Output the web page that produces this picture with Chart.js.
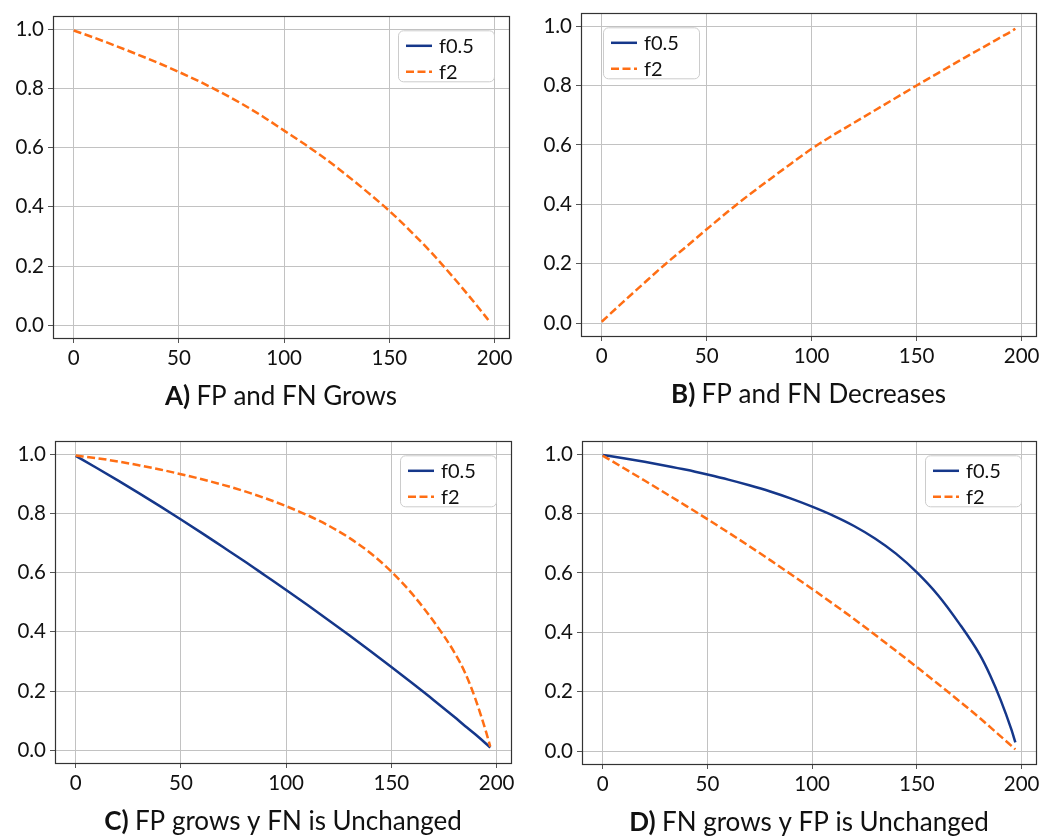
<!DOCTYPE html>
<html>
<head>
<meta charset="utf-8">
<script src="https://cdn.jsdelivr.net/npm/chart.js@4.4.1/dist/chart.umd.min.js"></script>
<style>
  html, body { margin: 0; padding: 0; background: #fff; }
  body { width: 1044px; height: 836px; position: relative; overflow: hidden; }
  canvas { position: absolute; }
</style>
</head>
<body>
<canvas id="chartA"></canvas>
<canvas id="chartB"></canvas>
<canvas id="chartC"></canvas>
<canvas id="chartD"></canvas>
<script>
// Datos
var xValues = [0, 10, 20, 30, 40, 50, 60, 70, 80, 90, 100, 110, 120, 130, 140, 150, 160, 170, 180, 185, 190, 195, 197];
var xTicks = [0, 50, 100, 150, 200];
var xTickLabels = ['0', '50', '100', '150', '200'];
var yTicks = [0, 0.2, 0.4, 0.6, 0.8, 1.0];
var yTickLabels = ['0.0', '0.2', '0.4', '0.6', '0.8', '1.0'];
var seriesNames = ['f0.5', 'f2'];
var panelLetters = ['A)', 'B)', 'C)', 'D)'];
var panelCaptions = ['FP and FN Grows', 'FP and FN Decreases', 'FP grows y FN is Unchanged', 'FN grows y FP is Unchanged'];

// A) f0.5 no se ve (queda tapada), solo aparece en la leyenda
var growsF05 = [];
var growsF2 = [0.995, 0.970, 0.943, 0.915, 0.886, 0.855, 0.822, 0.786, 0.747, 0.704, 0.657, 0.610, 0.560, 0.505, 0.447, 0.386, 0.318, 0.245, 0.165, 0.123, 0.080, 0.036, 0.018];
// B)
var decreasesF05 = [];
var decreasesF2 = [0.005, 0.070, 0.134, 0.197, 0.256, 0.316, 0.375, 0.431, 0.484, 0.536, 0.587, 0.632, 0.674, 0.716, 0.758, 0.800, 0.841, 0.882, 0.922, 0.942, 0.962, 0.982, 0.991];
// C)
var fpGrowsF05 = [0.994, 0.953, 0.911, 0.868, 0.824, 0.779, 0.733, 0.686, 0.639, 0.590, 0.541, 0.491, 0.440, 0.388, 0.335, 0.281, 0.226, 0.170, 0.112, 0.082, 0.053, 0.022, 0.009];
var fpGrowsF2 = [0.995, 0.986, 0.975, 0.962, 0.948, 0.932, 0.915, 0.896, 0.875, 0.851, 0.824, 0.794, 0.759, 0.717, 0.666, 0.603, 0.527, 0.436, 0.330, 0.262, 0.172, 0.062, 0.012];
// D)
var fnGrowsF05 = [0.997, 0.986, 0.974, 0.961, 0.947, 0.931, 0.914, 0.895, 0.874, 0.850, 0.823, 0.793, 0.758, 0.716, 0.665, 0.602, 0.526, 0.432, 0.325, 0.255, 0.172, 0.075, 0.030];
var fnGrowsF2 = [0.995, 0.953, 0.911, 0.868, 0.825, 0.781, 0.736, 0.690, 0.643, 0.595, 0.546, 0.496, 0.445, 0.392, 0.338, 0.283, 0.227, 0.170, 0.112, 0.081, 0.050, 0.019, 0.006];

var BLUE = '#15378a';
var ORANGE = '#ff6e14';
var FONT = 'Lato';

function toPoints(values) {
    return values.map(function (v, i) { return { x: xValues[i], y: v }; });
}

// Marco, leyenda y título de cada panel
var panelDecor = {
    id: 'panelDecor',
    afterDatasetsDraw: function (chart) {
        var a = chart.chartArea, ctx = chart.ctx;
        ctx.save();
        ctx.strokeStyle = '#333';
        ctx.lineWidth = 1.2;
        ctx.strokeRect(Math.round(a.left) + 0.5, Math.round(a.top) + 0.5, Math.round(a.right - a.left), Math.round(a.bottom - a.top));
        ctx.restore();
    },
    afterDraw: function (chart, args, opts) {
        var a = chart.chartArea, ctx = chart.ctx;
        // leyenda
        var lw = 96, lh = 51;
        var lx = opts.side === 'left' ? a.left + 22 : a.right - 15 - lw;
        var ly = a.top + 14;
        ctx.save();
        ctx.beginPath();
        ctx.roundRect(lx + 0.5, ly + 0.5, lw, lh, 5);
        ctx.fillStyle = 'rgba(255,255,255,0.8)';
        ctx.fill();
        ctx.strokeStyle = '#cccccc';
        ctx.lineWidth = 1;
        ctx.stroke();
        chart.data.datasets.forEach(function (ds, i) {
            var cy = ly + 15.5 + i * 26;
            ctx.beginPath();
            ctx.setLineDash(ds.borderDash || []);
            ctx.strokeStyle = ds.borderColor;
            ctx.lineWidth = ds.borderWidth;
            ctx.moveTo(lx + 8, cy);
            ctx.lineTo(lx + 34, cy);
            ctx.stroke();
            ctx.setLineDash([]);
            ctx.fillStyle = '#111';
            ctx.font = '20px ' + FONT;
            ctx.textBaseline = 'middle';
            ctx.textAlign = 'left';
            ctx.fillText(ds.label, lx + 41, cy + 1);
        });
        // título debajo del eje
        var cx = (a.left + a.right) / 2;
        var by = a.bottom + 67;
        ctx.textBaseline = 'alphabetic';
        ctx.font = 'bold 26px ' + FONT;
        var wBold = ctx.measureText(opts.letter + ' ').width;
        ctx.font = '26px ' + FONT;
        var wText = ctx.measureText(opts.caption).width;
        var x0 = cx - (wBold + wText) / 2;
        ctx.fillStyle = '#111';
        ctx.font = 'bold 26px ' + FONT;
        ctx.fillText(opts.letter, x0, by);
        ctx.font = '26px ' + FONT;
        ctx.fillText(opts.caption, x0 + wBold, by);
        ctx.restore();
    }
};

function makePanel(id, box, f05, f2, side, idx) {
    var canvas = document.getElementById(id);
    var W = box.w + 53 + 12, H = box.h + 13 + 80;
    canvas.width = W; canvas.height = H;
    canvas.style.width = W + 'px'; canvas.style.height = H + 'px';
    canvas.style.left = (box.l - 53) + 'px';
    canvas.style.top = (box.t - 13) + 'px';
    var gridOpts = { color: '#c2c2c2', lineWidth: 1, tickLength: 5, tickColor: '#555' };
    return new Chart(canvas, {
        type: 'line',
        data: {
            datasets: [{
                label: seriesNames[0],
                data: toPoints(f05),
                borderColor: BLUE,
                borderWidth: 2.5,
                pointRadius: 0,
                cubicInterpolationMode: 'monotone',
                order: 1
            }, {
                label: seriesNames[1],
                data: toPoints(f2),
                borderColor: ORANGE,
                borderWidth: 2.5,
                borderDash: [8, 3.5],
                pointRadius: 0,
                cubicInterpolationMode: 'monotone',
                order: 0
            }]
        },
        options: {
            responsive: false,
            animation: false,
            devicePixelRatio: 1,
            layout: { padding: { left: 0, top: 13, right: 12, bottom: 50 } },
            plugins: {
                legend: { display: false },
                tooltip: { enabled: false },
                panelDecor: { side: side, letter: panelLetters[idx], caption: panelCaptions[idx] }
            },
            scales: {
                x: {
                    type: 'linear',
                    min: -9.85,
                    max: 206.85,
                    afterBuildTicks: function (s) { s.ticks = xTicks.map(function (v) { return { value: v }; }); },
                    afterFit: function (s) { s.height = 30; },
                    ticks: {
                        callback: function (v, i) { return xTickLabels[i]; },
                        font: { family: FONT, size: 20.5 },
                        color: '#111',
                        padding: 3,
                        autoSkip: false,
                        maxRotation: 0
                    },
                    grid: gridOpts,
                    border: { display: false }
                },
                y: {
                    type: 'linear',
                    min: -0.043,
                    max: 1.043,
                    afterBuildTicks: function (s) { s.ticks = yTicks.map(function (v) { return { value: v }; }); },
                    afterFit: function (s) { s.width = 53; },
                    ticks: {
                        callback: function (v, i) { return yTickLabels[i]; },
                        font: { family: FONT, size: 20.5 },
                        color: '#111',
                        padding: 4,
                        autoSkip: false
                    },
                    grid: gridOpts,
                    border: { display: false }
                }
            }
        },
        plugins: [panelDecor]
    });
}

makePanel('chartA', { l: 53, t: 13, w: 456, h: 325 }, growsF05, growsF2, 'right', 0);
makePanel('chartB', { l: 581, t: 10, w: 455, h: 326 }, decreasesF05, decreasesF2, 'left', 1);
makePanel('chartC', { l: 55, t: 438, w: 456, h: 325 }, fpGrowsF05, fpGrowsF2, 'right', 2);
makePanel('chartD', { l: 582, t: 438, w: 454, h: 326 }, fnGrowsF05, fnGrowsF2, 'right', 3);
</script>
</body>
</html>
